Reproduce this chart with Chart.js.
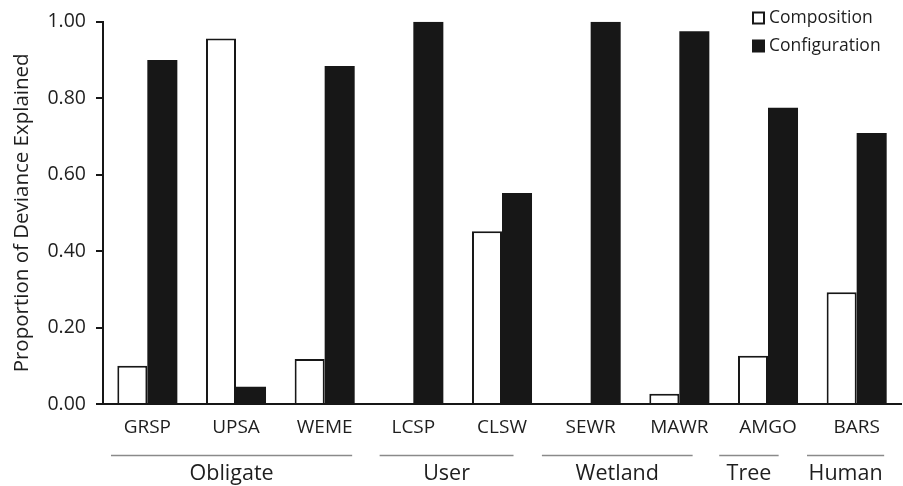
<!DOCTYPE html>
<html>
<head>
<meta charset="utf-8">
<script src="https://cdn.jsdelivr.net/npm/chart.js@4/dist/chart.umd.min.js"></script>
<style>
  html, body { margin: 0; padding: 0; background: #fff; }
  #wrap { width: 903px; height: 486px; position: relative; }
</style>
</head>
<body>
<div id="wrap"><canvas id="c" width="903" height="486"></canvas></div>
<script>
const categories = ['GRSP', 'UPSA', 'WEME', 'LCSP', 'CLSW', 'SEWR', 'MAWR', 'AMGO', 'BARS'];
const composition = [0.10, 0.956, 0.118, 0, 0.452, 0, 0.027, 0.126, 0.292];
const configuration = [0.90, 0.045, 0.884, 1.00, 0.552, 1.00, 0.975, 0.775, 0.709];
const groupNames = ['Obligate', 'User', 'Wetland', 'Tree', 'Human'];
const groupFirst = [0, 3, 5, 7, 8];
const groupLast = [2, 4, 6, 7, 8];
const yTicks = [0, 0.2, 0.4, 0.6, 0.8, 1.0];

const FONT = '"Open Sans", "DejaVu Sans", sans-serif';
const TXT = '#1e1e1e';
const BLACK = '#171717';

// line extents per group, in fractions of a category width relative to first/last centre
const groupLineStart = [-0.41, -0.38, -0.55, -0.55, -0.56];
const groupLineEnd = [0.31, 0.13, 0.15, 0.12, 0.31];

const groupPlugin = {
  id: 'groups',
  afterDraw(chart) {
    const ctx = chart.ctx;
    const x = chart.scales.x;
    const w = x.getPixelForValue(1) - x.getPixelForValue(0);
    ctx.save();
    ctx.strokeStyle = '#8a8a8a';
    ctx.lineWidth = 1.6;
    ctx.fillStyle = TXT;
    ctx.font = '21.5px ' + FONT;
    ctx.textAlign = 'center';
    ctx.textBaseline = 'middle';
    groupNames.forEach((g, i) => {
      const x0 = x.getPixelForValue(groupFirst[i]) + groupLineStart[i] * w;
      const x1 = x.getPixelForValue(groupLast[i]) + groupLineEnd[i] * w;
      ctx.beginPath();
      ctx.moveTo(x0, 455.5);
      ctx.lineTo(x1, 455.5);
      ctx.stroke();
      ctx.fillText(g, (x0 + x1) / 2, 474);
    });
    ctx.restore();
  }
};

const legendPlugin = {
  id: 'boxLegend',
  afterDraw(chart) {
    const ctx = chart.ctx;
    ctx.save();
    ctx.font = '17.5px ' + FONT;
    ctx.textBaseline = 'middle';
    ctx.textAlign = 'left';
    chart.data.datasets.forEach((ds, i) => {
      const yc = 18 + i * 28;
      const bx = 752, size = 13;
      if (ds.backgroundColor === '#ffffff') {
        ctx.fillStyle = '#fff';
        ctx.fillRect(bx, yc - size / 2, size, size);
        ctx.strokeStyle = BLACK;
        ctx.lineWidth = 2;
        ctx.strokeRect(bx + 1, yc - size / 2 + 1, size - 2, size - 2);
      } else {
        ctx.fillStyle = ds.backgroundColor;
        ctx.fillRect(bx, yc - size / 2, size, size);
      }
      ctx.fillStyle = TXT;
      ctx.fillText(ds.label, 769, yc);
    });
    ctx.restore();
  }
};

new Chart(document.getElementById('c'), {
  type: 'bar',
  data: {
    labels: categories,
    datasets: [
      { label: 'Composition', data: composition, backgroundColor: '#ffffff', borderColor: BLACK, borderWidth: 2, borderSkipped: 'bottom' },
      { label: 'Configuration', data: configuration, backgroundColor: BLACK, borderColor: BLACK, borderWidth: 0 }
    ]
  },
  options: {
    responsive: false,
    animation: false,
    devicePixelRatio: 1,
    layout: { padding: { top: 11, right: 2, left: 0, bottom: 0 } },
    plugins: { legend: { display: false }, tooltip: { enabled: false } },
    datasets: { bar: { categoryPercentage: 0.677, barPercentage: 1.0 } },
    scales: {
      x: {
        grid: { display: true, drawOnChartArea: false, drawTicks: false },
        border: { display: true, color: BLACK, width: 2 },
        ticks: { color: TXT, font: { family: FONT, size: 19 }, padding: 12, maxRotation: 0 },
        afterFit(scale) { scale.height = 82; }
      },
      y: {
        min: 0, max: 1,
        afterBuildTicks(scale) { scale.ticks = yTicks.map(v => ({ value: v })); },
        grid: { display: true, drawOnChartArea: false, drawTicks: true, tickLength: 7, color: BLACK, lineWidth: 2 },
        border: { display: true, color: BLACK, width: 2 },
        ticks: {
          color: TXT, font: { family: FONT, size: 19.5 }, padding: 10,
          callback: v => Number(v).toFixed(2)
        },
        title: { display: true, text: 'Proportion of Deviance Explained', color: TXT, font: { family: FONT, size: 20.5 }, padding: { top: 10, bottom: 4 } },
        afterFit(scale) { scale.width = 103; }
      }
    }
  },
  plugins: [groupPlugin, legendPlugin]
});
</script>
</body>
</html>
